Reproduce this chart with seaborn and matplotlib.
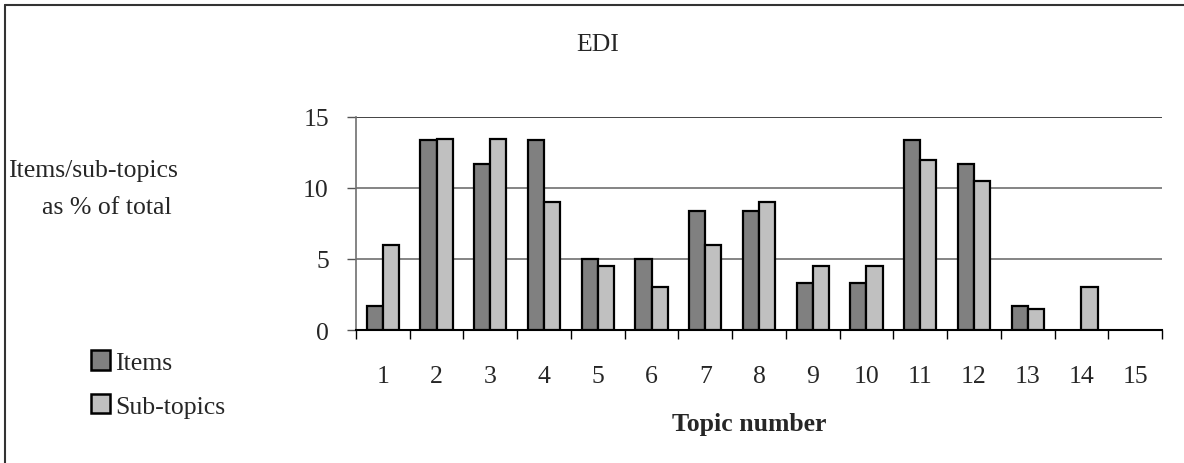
import matplotlib
matplotlib.use("Agg")
import matplotlib.pyplot as plt
import seaborn as sns
import pandas as pd
import numpy as np
from matplotlib.patches import Patch
from matplotlib.lines import Line2D

topics = [str(i) for i in range(1, 16)]
items = [1.67, 13.33, 11.67, 13.33, 5.0, 5.0, 8.33, 8.33, 3.33, 3.33, 13.33, 11.67, 1.67, 0.0, 0.0]
subtopics = [5.97, 13.43, 13.43, 8.96, 4.48, 2.99, 5.97, 8.96, 4.48, 4.48, 11.94, 10.45, 1.49, 2.99, 0.0]
series_names = ["Items", "Sub-topics"]
yticks = [0, 5, 10, 15]

df = pd.DataFrame({
    "topic": topics * 2,
    "value": items + subtopics,
    "series": [series_names[0]] * len(topics) + [series_names[1]] * len(topics),
})

sns.set_style("white")
plt.rcParams["font.family"] = ["Liberation Serif", "DejaVu Serif"]
FS = 18.5

W, H = 1184, 464
fig = plt.figure(figsize=(W / 100, H / 100), dpi=100)
ax = fig.add_axes([356 / W, 1 - 331 / H, (1162 - 356) / W, (331 - 117.5) / H])

colors = ["#808080", "#c0c0c0"]
sns.barplot(data=df, x="topic", y="value", hue="series", order=topics,
            hue_order=series_names, palette=colors, width=0.6, gap=0,
            edgecolor="black", linewidth=1.6, ax=ax, legend=False, zorder=3)
for p in ax.patches:
    if p.get_height() == 0:
        p.set_visible(False)

ax.set_ylim(0, 15)
ax.set_xlim(-0.5, len(topics) - 0.5)
ax.set_yticks(yticks)
ax.set_yticklabels([str(v) for v in yticks], fontsize=FS)
for v in yticks[1:]:
    ax.axhline(v, color="#222222" if v == yticks[-1] else "#707070", linewidth=1.2, zorder=1)

ax.set_xticks(range(len(topics)))
ax.set_xticklabels(topics, fontsize=FS)
ax.set_xticks(np.arange(-0.5, len(topics)), minor=True)
ax.tick_params(axis="x", which="major", bottom=False, length=0, pad=25)
ax.tick_params(axis="x", which="minor", bottom=True, length=6.5, width=1, color="black",
               direction="out")
ax.tick_params(axis="y", which="major", left=True, length=6.5, width=1, color="#555555",
               direction="out", pad=13)

for side in ["top", "right"]:
    ax.spines[side].set_visible(False)
ax.spines["left"].set_color("#707070")
ax.spines["left"].set_linewidth(1.2)
ax.spines["bottom"].set_color("black")
ax.spines["bottom"].set_linewidth(1.5)
ax.set_xlabel("")
ax.set_ylabel("")

fig.text(598 / W, 1 - 51 / H, "EDI", ha="center", va="baseline", fontsize=FS)
fig.text(8 / W, 1 - 177 / H, "Items/sub-topics", ha="left", va="baseline", fontsize=FS)
fig.text(42 / W, 1 - 214 / H, "as % of total", ha="left", va="baseline", fontsize=FS)
fig.text(749 / W, 1 - 431 / H, "Topic number", ha="center", va="baseline",
         fontsize=FS, fontweight="bold")

handles = [Patch(facecolor=c, edgecolor="black", linewidth=1.8) for c in colors]
fig.legend(handles, series_names, loc="upper left", bbox_to_anchor=(91 / W, 1 - 351 / H),
           frameon=False, fontsize=FS, handlelength=0.72, handleheight=0.8, handletextpad=0.22,
           labelspacing=0.78, borderaxespad=0, borderpad=0)

# partial frame (top and left edges of a surrounding box)
fig.add_artist(Line2D([4.5 / W, 1], [1 - 5.5 / H, 1 - 5.5 / H], transform=fig.transFigure,
                      color="#333333", linewidth=1.5))
fig.add_artist(Line2D([4.5 / W, 4.5 / W], [0, 1 - 5.5 / H], transform=fig.transFigure,
                      color="#333333", linewidth=1.5))

fig.savefig("out.png", dpi=100)
